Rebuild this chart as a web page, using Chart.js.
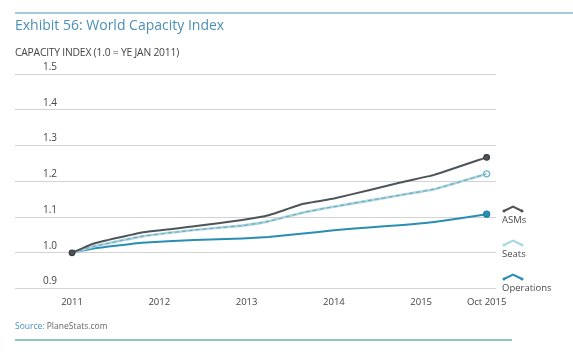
<!DOCTYPE html>
<html>
<head>
<meta charset="utf-8">
<script src="https://cdn.jsdelivr.net/npm/chart.js@4/dist/chart.umd.min.js"></script>
<style>
  html, body { margin: 0; padding: 0; background: #fff; }
  body { width: 573px; height: 356px; position: relative; overflow: hidden; font-family: "Open Sans", Lato, sans-serif; }
  #wrap { position: absolute; left: 0; top: 0; width: 573px; height: 356px; }
  .rule-top { position: absolute; left: 15px; top: 12px; width: 558px; height: 2px; background: #a3cbdc; }
  .rule-bot { position: absolute; left: 15px; top: 339px; width: 497px; height: 2px; background: #8cc8c2; }
  .title { position: absolute; left: 15px; top: 15px; font-size: 14px; color: #4b8fb6; white-space: nowrap; }
  .ylab { position: absolute; left: 15px; top: 45px; font-size: 10.3px; color: #444; white-space: nowrap; letter-spacing: -0.2px; }
  .source { position: absolute; left: 15px; top: 320px; font-size: 8.5px; color: #666; white-space: nowrap; }
  .source span { color: #4a90c0; }
  .leg { position: absolute; left: 502px; font-size: 9.5px; color: #4a4a4a; white-space: nowrap; }
  .leg svg { display: block; margin-bottom: 0px; }
</style>
</head>
<body>
<div id="wrap"><canvas id="c" width="573" height="356"></canvas></div>
<div class="rule-top"></div>
<div class="title">Exhibit 56: World Capacity Index</div>
<div class="ylab">CAPACITY INDEX (1.0 = YE JAN 2011)</div>
<div class="leg" style="top:205px;">
  <svg width="22" height="8"><polyline points="2,6 11,1.5 20,6" fill="none" stroke="#4f5458" stroke-width="2"/><circle cx="2" cy="6" r="1.5" fill="#4f5458"/><circle cx="20" cy="6" r="1.5" fill="#4f5458"/></svg>
  <div>ASMs</div>
</div>
<div class="leg" style="top:239px;">
  <svg width="22" height="8"><polyline points="2,6 11,1.5 20,6" fill="none" stroke="#a6d7e3" stroke-width="2"/><circle cx="2" cy="6" r="1.5" fill="#a6d7e3"/><circle cx="20" cy="6" r="1.5" fill="#a6d7e3"/></svg>
  <div>Seats</div>
</div>
<div class="leg" style="top:273px;">
  <svg width="22" height="8"><polyline points="2,6 11,1.5 20,6" fill="none" stroke="#2a8db2" stroke-width="2"/><circle cx="2" cy="6" r="1.5" fill="#2a8db2"/><circle cx="20" cy="6" r="1.5" fill="#2a8db2"/></svg>
  <div>Operations</div>
</div>
<div class="source"><span>Source:</span> PlaneStats.com</div>
<div class="rule-bot"></div>
<script>
// Time positions (in years) of the sampled points
const years = [2011, 2011.25, 2011.8, 2012.4, 2012.95, 2013.25, 2013.65, 2014.0, 2014.4, 2014.75, 2015.15, 2015.75];
const asms  = [1.000, 1.026, 1.057, 1.074, 1.092, 1.105, 1.137, 1.152, 1.175, 1.196, 1.218, 1.267];
const seats = [1.000, 1.018, 1.046, 1.064, 1.076, 1.088, 1.113, 1.129, 1.146, 1.161, 1.178, 1.221];
const operations = [1.000, 1.012, 1.028, 1.036, 1.040, 1.044, 1.054, 1.063, 1.071, 1.077, 1.086, 1.108];
const xTickValues = [2011, 2012, 2013, 2014, 2015, 2015.75];
const xTickLabels = ['2011', '2012', '2013', '2014', '2015', 'Oct 2015'];
const yTickValues = [0.9, 1.0, 1.1, 1.2, 1.3, 1.4, 1.5];

const pts = arr => arr.map((v, i) => ({ x: years[i], y: v }));
const last = years.length - 1;
const endRadius = (r0, rEnd) => ctx => ctx.dataIndex === 0 ? r0 : (ctx.dataIndex === last ? rEnd : 0);

new Chart(document.getElementById('c'), {
  type: 'line',
  data: {
    datasets: [
      { label: 'ASMs', data: pts(asms), borderColor: '#4f5458', backgroundColor: '#4f5458', borderWidth: 2,
        pointRadius: endRadius(2.8, 2.8), pointBorderColor: '#3a3d40', pointBackgroundColor: '#4f5458', pointBorderWidth: 1.2, tension: 0.1 },
      { label: 'Seats dash', data: pts(seats), borderColor: '#7ea4b3', borderWidth: 1.1, borderDash: [4, 3],
        pointRadius: 0, tension: 0.1 },
      { label: 'Seats', data: pts(seats), borderColor: '#a6d7e3', borderWidth: 2.6,
        pointRadius: endRadius(0, 3), pointBorderColor: '#6fb5c9', pointBackgroundColor: '#ffffff', pointBorderWidth: 1.3, tension: 0.1 },
      { label: 'Operations', data: pts(operations), borderColor: '#2a8db2', borderWidth: 2,
        pointRadius: endRadius(0, 3), pointBorderColor: '#1f7fa3', pointBackgroundColor: '#2a8db2', pointBorderWidth: 1.2, tension: 0.1 }
    ]
  },
  options: {
    responsive: false,
    animation: false,
    layout: { padding: { left: 15, right: 77, top: 74, bottom: 40 } },
    plugins: { legend: { display: false }, tooltip: { enabled: false } },
    scales: {
      x: {
        type: 'linear',
        min: 2010.347, max: 2015.857,
        afterBuildTicks: axis => { axis.ticks = xTickValues.map(v => ({ value: v })); },
        ticks: {
          autoSkip: false, maxRotation: 0, padding: 8, color: '#444',
          font: { family: '"Open Sans", Lato, sans-serif', size: 9.5 },
          callback: (v) => { const i = xTickValues.indexOf(v); return i >= 0 ? xTickLabels[i] : ''; }
        },
        grid: { display: false, drawTicks: false },
        border: { display: false }
      },
      y: {
        min: 0.9, max: 1.5,
        afterBuildTicks: axis => { axis.ticks = yTickValues.map(v => ({ value: v })); },
        afterFit: axis => { axis.width = 0; },
        ticks: {
          mirror: true, padding: 28, labelOffset: -7, color: '#444',
          font: { family: '"Open Sans", Lato, sans-serif', size: 10 },
          callback: v => v.toFixed(1)
        },
        grid: { color: '#d3d3d3', lineWidth: 1, drawTicks: false },
        border: { display: false }
      }
    }
  }
});
</script>
</body>
</html>
